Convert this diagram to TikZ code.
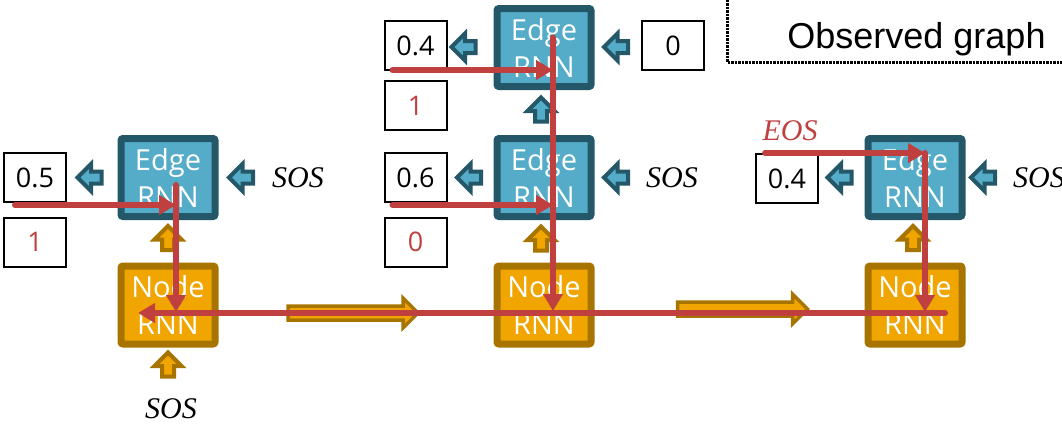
\documentclass[tikz,border=0pt]{standalone}
\usepackage{fontspec}
\newfontfamily\boxfont{Open Sans}
\newfontfamily\obsfont{Liberation Sans}
\newfontfamily\tokfont{Liberation Serif}
\usetikzlibrary{shapes.arrows,arrows.meta}

\definecolor{tealdark}{RGB}{36,88,105}
\definecolor{tealfill}{RGB}{84,172,200}
\definecolor{orangedark}{RGB}{168,116,0}
\definecolor{orangefill}{RGB}{240,165,0}
\definecolor{feedred}{RGB}{192,64,64}

\tikzset{
  rnnbox/.style={rectangle, rounded corners=2pt, line width=7pt,
    minimum width=94pt, minimum height=78pt, inner sep=0pt,
    text=white, align=center, font=\boxfont\fontsize{29}{37}\selectfont},
  edgernn/.style={rnnbox, draw=tealdark, fill=tealfill},
  nodernn/.style={rnnbox, draw=orangedark, fill=orangefill},
  val/.style={rectangle, draw=black, line width=2pt, minimum width=62pt,
    minimum height=49pt, inner sep=0pt, font=\boxfont\fontsize{27}{27}\selectfont},
  sample/.style={val, text=feedred},
  sos/.style={inner sep=0pt, font=\tokfont\itshape\fontsize{30}{30}\selectfont},
  blockarrow/.style={single arrow, line width=4pt, inner sep=4pt,
    minimum height=24pt, single arrow head extend=7.5pt},
  tarrow/.style={blockarrow, draw=tealdark, fill=tealfill},
  oarrow/.style={blockarrow, draw=orangedark, fill=orangefill},
  statearrow/.style={oarrow, line width=3.5pt, inner sep=5.25pt,
    minimum height=130pt, single arrow head extend=8pt},
  feed/.style={draw=feedred, line width=6pt, line cap=round,
    -{Triangle[length=17pt,width=19pt]}},
  obsframe/.style={draw=black, line width=3pt, dash pattern=on 2.5pt off 1pt}
}

\begin{document}
\begin{tikzpicture}[x=1pt, y=-1pt]

  \useasboundingbox (0,0) rectangle (1062,429);

  % Observed graph frame
  \draw[obsframe] (727,-4) |- (1070,62);
  \node[font=\obsfont\fontsize{36}{36}\selectfont, anchor=base]
    (obs) at (916.5,48) {Observed graph};

  % Edge and node RNNs
  \node[edgernn] (e1)  at (168,177.5) {Edge\\RNN};
  \node[nodernn] (n1)  at (168,305)   {Node\\RNN};
  \node[edgernn] (e2t) at (544,47.5)  {Edge\\RNN};
  \node[edgernn] (e2)  at (544,177.5) {Edge\\RNN};
  \node[nodernn] (n2)  at (544,305)   {Node\\RNN};
  \node[edgernn] (e3)  at (915,177.5) {Edge\\RNN};
  \node[nodernn] (n3)  at (915,305)   {Node\\RNN};

  % Edge probabilities and samples
  \node[val]    (p1)  at (35,177.5)    {0.5};
  \node[sample] (s1)  at (35,242)      {1};
  \node[val]    (p2t) at (415.5,45.5)  {0.4};
  \node[sample] (s2t) at (415.5,105.5) {1};
  \node[val]    (p2)  at (415.5,177.5) {0.6};
  \node[sample] (s2)  at (415.5,242)   {0};
  \node[val]    (x2t) at (673,45.5)    {0};
  \node[val]    (p3)  at (787,178.5)   {0.4};

  % Start and end tokens
  \node[sos] (sos1) at (298,177.5)  {SOS};
  \node[sos] (sos2) at (672,177.5)  {SOS};
  \node[sos] (sos3) at (1039,177.5) {SOS};
  \node[sos] (sos0) at (171,409)    {SOS};
  \node[sos, text=feedred] (eos) at (790,131) {EOS};

  % Edge RNN arrows
  \node[tarrow, shape border rotate=180] (a1o)  at (92.5,177.5) {};
  \node[tarrow, shape border rotate=180] (a1i)  at (244,177.5)  {};
  \node[tarrow, shape border rotate=180] (a2to) at (466.5,47)   {};
  \node[tarrow, shape border rotate=180] (a2ti) at (619,47)     {};
  \node[tarrow, shape border rotate=180] (a2o)  at (472,177.5)  {};
  \node[tarrow, shape border rotate=180] (a2i)  at (619,177.5)  {};
  \node[tarrow, shape border rotate=180] (a3o)  at (842.5,177.5){};
  \node[tarrow, shape border rotate=180] (a3i)  at (986,177.5)  {};
  \node[tarrow, shape border rotate=90]  (a2u)  at (541,112.5)  {};

  % Node RNN arrows
  \node[oarrow, shape border rotate=90] (u1) at (168,241)   {};
  \node[oarrow, shape border rotate=90] (u0) at (168,367.5) {};
  \node[oarrow, shape border rotate=90] (u2) at (541,241.5) {};
  \node[oarrow, shape border rotate=90] (u3) at (913,241)   {};
  \node[statearrow] (h12) at (349.5,313) {};
  \node[statearrow] (h23) at (739,309)   {};

  % Sampling path
  \draw[feed] ([xshift=-20pt,yshift=-27.5pt]p1.center)
    -- ([xshift=8pt,yshift=-27.5pt]e1.center);
  \draw[feed] ([xshift=8pt,yshift=-7.5pt]e1.center)
    -- ([xshift=8pt,yshift=-7pt]n1.center);
  \draw[feed] ([xshift=-23pt,yshift=-24.5pt]p2t.center)
    -- ([xshift=9pt,yshift=-22.5pt]e2t.center);
  \draw[feed] ([xshift=-23pt,yshift=-27.5pt]p2.center)
    -- ([xshift=9pt,yshift=-27.5pt]e2.center);
  \draw[feed] ([xshift=9pt,yshift=10pt]e2t.center)
    -- ([xshift=9pt,yshift=-6pt]n2.center);
  \draw[feed] ([xshift=-22pt,yshift=25.5pt]p3.center)
    -- ([xshift=10pt,yshift=24.5pt]e3.center);
  \draw[feed] ([xshift=10pt,yshift=24.5pt]e3.center)
    -- ([xshift=10pt,yshift=-7pt]n3.center);
  \draw[feed] ([xshift=30pt,yshift=-8pt]n3.center)
    -- ([xshift=-30pt,yshift=-8pt]n1.center);

\end{tikzpicture}
\end{document}
